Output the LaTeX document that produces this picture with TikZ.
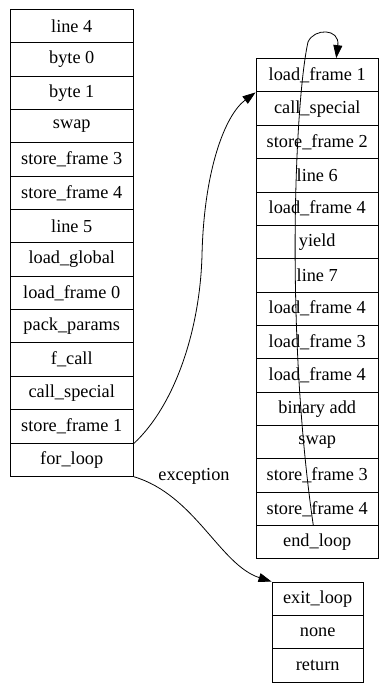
\documentclass[tikz,border=0pt]{standalone}
\usepackage{fontspec}
\setmainfont{Liberation Serif}
\usetikzlibrary{arrows.meta}
\begin{document}
\begin{tikzpicture}[x=1bp,y=-1bp,
  cell/.style={draw, line width=0.9bp, minimum height=33.35bp, inner sep=0pt,
    font=\fontsize{18.3bp}{22bp}\selectfont},
  edge/.style={line width=0.8bp, -{Triangle[length=13bp,width=9bp]}},
  lbl/.style={font=\fontsize{18.3bp}{22bp}\selectfont, inner sep=0pt}]
\useasboundingbox (0,0) rectangle (382,687);

% main body block
\foreach \t [count=\i] in {line 4, byte 0, byte 1, swap, store\_frame 3,
    store\_frame 4, line 5, load\_global, load\_frame 0, pack\_params,
    f\_call, call\_special, store\_frame 1, for\_loop}
  \node[cell, minimum width=123.5bp] (L\i) at (71.75, 9.4+33.35*\i-16.675) {\t};

% loop body block
\foreach \t [count=\i] in {load\_frame 1, call\_special, store\_frame 2, line 6,
    load\_frame 4, yield, line 7, load\_frame 4, load\_frame 3, load\_frame 4,
    binary add, swap, store\_frame 3, store\_frame 4, end\_loop}
  \node[cell, minimum width=122.5bp] (R\i) at (317.25, 58.6+33.35*\i-16.675) {\t};

% exit block
\foreach \t [count=\i] in {exit\_loop, none, return}
  \node[cell, minimum width=91.3bp] (B\i) at (317.65, 582+33.35*\i-16.675) {\t};

% entry into the loop
\draw[edge] (L13.south east) .. controls (175,405) and (200,330) .. (202,255)
  .. controls (204,170) and (225,115) .. (R1.south west);

% back edge of the loop
\draw[edge] ([xshift=-4bp]R15.north) .. controls (285,330) and (295,100) .. (308,42)
  .. controls (314,28) and (340,28) .. ([xshift=19bp]R1.north);

% exception exit
\draw[edge] (L14.south east) .. controls (195,495) and (220,565) .. (B1.north west);
\node[lbl] (exc) at (194,476) {exception};
\end{tikzpicture}
\end{document}
